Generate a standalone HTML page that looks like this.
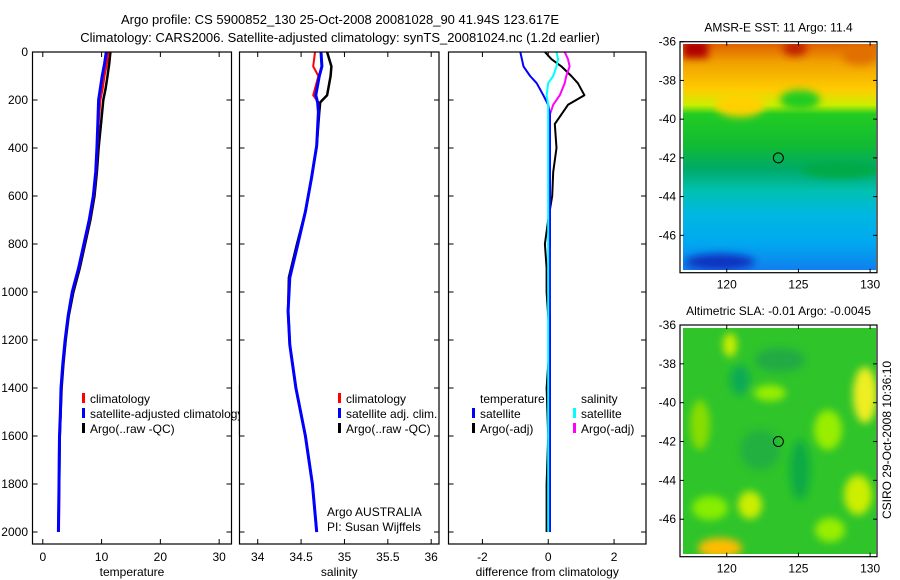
<!DOCTYPE html>
<html><head><meta charset="utf-8"><style>
html,body{margin:0;padding:0;background:#fff;}
svg{display:block;font-family:"Liberation Sans",sans-serif;}
</style></head><body>
<svg id="c" width="900" height="580" viewBox="0 0 900 580" xmlns="http://www.w3.org/2000/svg">
<defs>
<linearGradient id="sstg" x1="0" y1="0" x2="0" y2="1">
<stop offset="0" stop-color="#e06000"/><stop offset="0.08" stop-color="#f0a000"/>
<stop offset="0.2" stop-color="#ffcc00"/><stop offset="0.27" stop-color="#ccee00"/>
<stop offset="0.31" stop-color="#22cc22"/><stop offset="0.45" stop-color="#11bb33"/>
<stop offset="0.55" stop-color="#00aa66"/><stop offset="0.65" stop-color="#00c0b0"/>
<stop offset="0.75" stop-color="#00b8e0"/><stop offset="0.88" stop-color="#00a8f0"/>
<stop offset="1" stop-color="#1080ee"/>
</linearGradient>
<filter id="blur"><feGaussianBlur stdDeviation="4"/></filter>
<clipPath id="m1c"><rect x="683" y="44" width="193" height="226"/></clipPath>
<clipPath id="m2c"><rect x="683" y="328" width="193" height="226"/></clipPath>
</defs>
<g id="root"></g>
</svg>
<script>
// ---- data ----
const depths = [0,50,100,150,200,300,400,500,600,700,800,900,1000,1100,1200,1300,1400,1500,1600,1700,1800,1900,2000];
const tempArgo = [11.5,11.3,11.0,10.7,10.3,9.9,9.5,9.2,8.8,8.1,7.2,6.3,5.2,4.4,3.9,3.5,3.2,3.05,2.9,2.85,2.8,2.7,2.65];
const tempClim = [11.2,10.9,10.5,10.2,9.8,9.5,9.3,9.1,8.7,8.0,7.1,6.2,5.1,4.3,3.8,3.4,3.15,3.0,2.9,2.85,2.8,2.8,2.75];
const tempSat  = [10.8,10.5,10.1,9.8,9.5,9.35,9.2,9.0,8.6,7.9,7.0,6.1,5.0,4.3,3.8,3.4,3.1,3.0,2.85,2.8,2.75,2.7,2.65];
const salDepths = [0,60,100,180,210,250,390,525,665,805,940,1080,1220,1400,1600,1800,2000];
const salArgo = [34.80,34.85,34.84,34.80,34.72,34.71,34.68,34.62,34.55,34.45,34.36,34.35,34.37,34.44,34.55,34.63,34.68];
const salClim = [34.66,34.64,34.70,34.64,34.70,34.70,34.68,34.62,34.55,34.46,34.37,34.35,34.37,34.44,34.55,34.63,34.68];
const salSat  = [34.73,34.74,34.71,34.67,34.69,34.70,34.68,34.62,34.55,34.46,34.37,34.35,34.37,34.44,34.55,34.63,34.68];
const diffDepths = [0,30,60,100,130,180,220,260,300,400,500,600,700,800,900,1000,1100,1200,1400,1600,1800,2000];
const dTempSat  = [-0.85,-0.8,-0.75,-0.55,-0.35,-0.15,0.0,0.05,0.05,0.05,0.05,0.05,0.05,0.05,0.05,0.05,0.05,0.05,0.05,0.05,0.05,0.05];
const dTempArgo = [-0.1,0.1,0.4,0.7,0.9,1.1,0.6,0.4,0.2,0.25,0.15,0.12,0.0,-0.1,-0.05,-0.05,0.0,0.05,-0.05,0.0,-0.05,-0.05];
const dSalSat   = [0.25,0.3,0.25,0.15,0.0,-0.05,0.0,0.0,0.0,0.0,0.0,0.0,0.0,0.0,0.0,0.0,0.0,0.0,0.0,0.0,0.0,0.0];
const dSalArgo  = [0.5,0.6,0.65,0.55,0.5,0.35,0.15,0.05,0.05,0.05,0.05,0.05,0.05,0.05,0.0,0.0,0.05,0.05,0.05,0.05,0.05,0.05];
const depthTicks = [0,200,400,600,800,1000,1200,1400,1600,1800,2000];
const tempTicks = [0,10,20,30];
const salTicks = [34,34.5,35,35.5,36];
const diffTicks = [-2,0,2];
const lonTicks = [120,125,130];
const latTicks = [-36,-38,-40,-42,-44,-46];
const floatLon = 123.6, floatLat = -42.0;

const NS="http://www.w3.org/2000/svg";
const root=document.getElementById('root');
function el(tag,attrs,parent){const e=document.createElementNS(NS,tag);for(const k in attrs)e.setAttribute(k,attrs[k]);(parent||root).appendChild(e);return e;}
function txt(x,y,s,anchor,size,parent,name){const t=el('text',{x:x,y:y,'text-anchor':anchor||'start','font-size':size||12,fill:'#000'},parent);t.textContent=s;


return t;}

const yTop=52, yScale=0.24;
function yD(d){return yTop+d*yScale;}
const panels=[
 {x0:32.5,x1:231.5,min:-1.75,max:32.1,ticks:tempTicks,label:'temperature',name:'temperature-panel'},
 {x0:239.5,x1:439,min:33.79,max:36.09,ticks:salTicks,label:'salinity',name:'salinity-panel'},
 {x0:448.5,x1:646,min:-3.03,max:2.97,ticks:diffTicks,label:'difference from climatology',name:'difference-panel'}
];
function xf(p){return v=>p.x0+(v-p.min)/(p.max-p.min)*(p.x1-p.x0);}
function line(p,ds,vals,color,w,name){
  const f=xf(p);let d='';
  ds.forEach((dd,i)=>{const x=f(vals[i]),y=yD(dd);d+=(i?' L':'M')+x.toFixed(1)+' '+y.toFixed(1);});
  const pa=el('path',{d:d,fill:'none',stroke:color,'stroke-width':w,'stroke-linejoin':'round'},p.g);
  
  
}
const yBot=544;
panels.forEach((p,pi)=>{
  p.g=el('g',{});
  
  
  el('rect',{x:p.x0,y:yTop,width:p.x1-p.x0,height:yBot-yTop,fill:'#fff'},p.g);
  const f=xf(p);
  p.ticks.forEach(t=>{const x=f(t);
    el('line',{x1:x,y1:yBot,x2:x,y2:yBot-5,stroke:'#000'},p.g);
    el('line',{x1:x,y1:yTop,x2:x,y2:yTop+5,stroke:'#000'},p.g);
    txt(x,561,String(t),'middle',12,p.g,'x-tick-label');});
  depthTicks.forEach(d=>{const y=yD(d);
    el('line',{x1:p.x0,y1:y,x2:p.x0+5,y2:y,stroke:'#000'},p.g);
    el('line',{x1:p.x1,y1:y,x2:p.x1-5,y2:y,stroke:'#000'},p.g);
    if(pi===0)txt(28,y+4,String(d),'end',12,p.g,'y-tick-label');});
  txt((p.x0+p.x1)/2,576,p.label,'middle',12,p.g,'x-axis-title');
});
// series
line(panels[0],depths,tempArgo,'#000',2.5,'temp-argo-line');
line(panels[0],depths,tempClim,'#f00',2,'temp-climatology-line');
line(panels[0],depths,tempSat,'#00f',3,'temp-satellite-line');
line(panels[1],salDepths,salArgo,'#000',2.5,'salinity-argo-line');
line(panels[1],salDepths,salClim,'#f00',2,'salinity-climatology-line');
line(panels[1],salDepths,salSat,'#00f',3,'salinity-satellite-line');
line(panels[2],diffDepths,dTempArgo,'#000',2,'diff-temp-argo-line');
line(panels[2],diffDepths,dSalArgo,'#f0f',2,'diff-sal-argo-line');
line(panels[2],diffDepths,dTempSat,'#00f',2,'diff-temp-satellite-line');
line(panels[2],diffDepths,dSalSat,'#0ff',2,'diff-sal-satellite-line');
// frames
panels.forEach(p=>el('rect',{x:p.x0,y:yTop,width:p.x1-p.x0,height:yBot-yTop,fill:'none',stroke:'#000','stroke-width':1.2}));
// legends
function legend(x,y,items,name){
  const g=el('g',{});
  
  
  items.forEach((it,i)=>{const yy=y+i*15;
    if(it[1])el('rect',{x:x,y:yy-10,width:3,height:10,fill:it[1]},g);
    txt(x+8,yy,it[0],'start',12,g,'legend-entry');});
  return g;
}
legend(82,403,[['climatology','#f00'],['satellite-adjusted climatology','#00f'],['Argo(..raw -QC)','#000']],'temperature-legend');
el('rect',{x:239.5,y:385,width:40,height:50,fill:'#fff'});
el('line',{x1:239.5,y1:385,x2:239.5,y2:435,stroke:'#000','stroke-width':1.2});
legend(338,403,[['climatology','#f00'],['satellite adj. clim.','#00f'],['Argo(..raw -QC)','#000']],'salinity-legend');
legend(472,403,[['temperature',null],['satellite','#00f'],['Argo(-adj)','#000']],'diff-temp-legend');
legend(573,403,[['salinity',null],['satellite','#0ff'],['Argo(-adj)','#f0f']],'diff-sal-legend');
txt(327,516,'Argo AUSTRALIA','start',12,null,'credit-text');
txt(327,531,'PI: Susan Wijffels','start',12,null,'pi-text');
txt(340,24,'Argo profile: CS 5900852_130 25-Oct-2008 20081028_90 41.94S 123.617E','middle',13,null,'title-line-1');
txt(340,42,'Climatology: CARS2006. Satellite-adjusted climatology: synTS_20081024.nc (1.2d earlier)','middle',13,null,'title-line-2');

// maps
const mx0=680,mx1=877,lonMin=116.74,lonMax=130.48,latMax=-36,latMin=-47.93;
function map(y0,y1,title,fillFn,name){
  const g=el('g',{});
  
  
  const lx=v=>mx0+(v-lonMin)/(lonMax-lonMin)*(mx1-mx0);
  const ly=v=>y0+(latMax-v)/(latMax-latMin)*(y1-y0);
  fillFn(g);
  el('rect',{x:mx0,y:y0,width:mx1-mx0,height:y1-y0,fill:'none',stroke:'#000','stroke-width':1.2},g);
  lonTicks.forEach(t=>{const x=lx(t);
    el('line',{x1:x,y1:y0,x2:x,y2:y0+4,stroke:'#000'},g);
    el('line',{x1:x,y1:y1,x2:x,y2:y1-4,stroke:'#000'},g);
    txt(x,y1+16,String(t),'middle',12,g,'lon-tick-label');});
  latTicks.forEach(t=>{const y=ly(t);
    el('line',{x1:mx0,y1:y,x2:mx0+4,y2:y,stroke:'#000'},g);
    el('line',{x1:mx1,y1:y,x2:mx1-4,y2:y,stroke:'#000'},g);
    txt(676,y+4,String(t),'end',12,g,'lat-tick-label');});
  const c=el('circle',{cx:lx(floatLon),cy:ly(floatLat),r:5,fill:'none',stroke:'#000'},g);
  
  
  txt((mx0+mx1)/2,y0-10,title,'middle',12,g,'map-title');
}
map(41.7,272.7,'AMSR-E SST: 11 Argo: 11.4',g=>{
  const cg=el('g',{'clip-path':'url(#m1c)'},g);
  el('rect',{x:683,y:44,width:193,height:226,fill:'url(#sstg)'},cg);
  const bg=el('g',{filter:'url(#blur)'},cg);
  el('rect',{x:683,y:40,width:25,height:18,fill:'#b00000'},bg);
  el('ellipse',{cx:795,cy:48,rx:12,ry:8,fill:'#c02000'},bg);
  el('ellipse',{cx:860,cy:55,rx:18,ry:10,fill:'#e07000'},bg);
  el('ellipse',{cx:740,cy:105,rx:25,ry:12,fill:'#ffd000'},bg);
  el('ellipse',{cx:800,cy:100,rx:20,ry:10,fill:'#22cc22'},bg);
  el('ellipse',{cx:720,cy:262,rx:35,ry:8,fill:'#1030c0'},bg);
  el('ellipse',{cx:840,cy:170,rx:40,ry:8,fill:'#00aa44'},bg);
},'sst-map');
map(325,556.7,'Altimetric SLA: -0.01 Argo: -0.0045',g=>{
  const cg=el('g',{'clip-path':'url(#m2c)'},g);
  el('rect',{x:683,y:328,width:193,height:226,fill:'#2ec42a'},cg);
  const bg=el('g',{filter:'url(#blur)'},cg);
  [[730,345,7,12,'#ccee00'],[865,395,12,28,'#eeee22'],[770,393,16,8,'#99ee00'],[828,430,14,20,'#99ee00'],[858,495,14,20,'#ccee00'],
   [710,508,18,12,'#88ee00'],[750,505,12,14,'#ccee00'],[720,548,22,10,'#ffbb00'],[700,425,10,25,'#88dd00'],[830,530,15,12,'#99ee00'],
   [740,380,10,15,'#11aa55'],[800,470,10,30,'#11aa44'],[780,360,25,12,'#22aa44'],[760,450,20,20,'#22b040']].forEach(b=>
    el('ellipse',{cx:b[0],cy:b[1],rx:b[2],ry:b[3],fill:b[4]},bg));
},'sla-map');
const rt=txt(0,0,'CSIRO 29-Oct-2008 10:36:10','middle',12,null,'timestamp-text');
rt.setAttribute('transform','translate(891,440) rotate(-90)');
</script>
</body></html>
